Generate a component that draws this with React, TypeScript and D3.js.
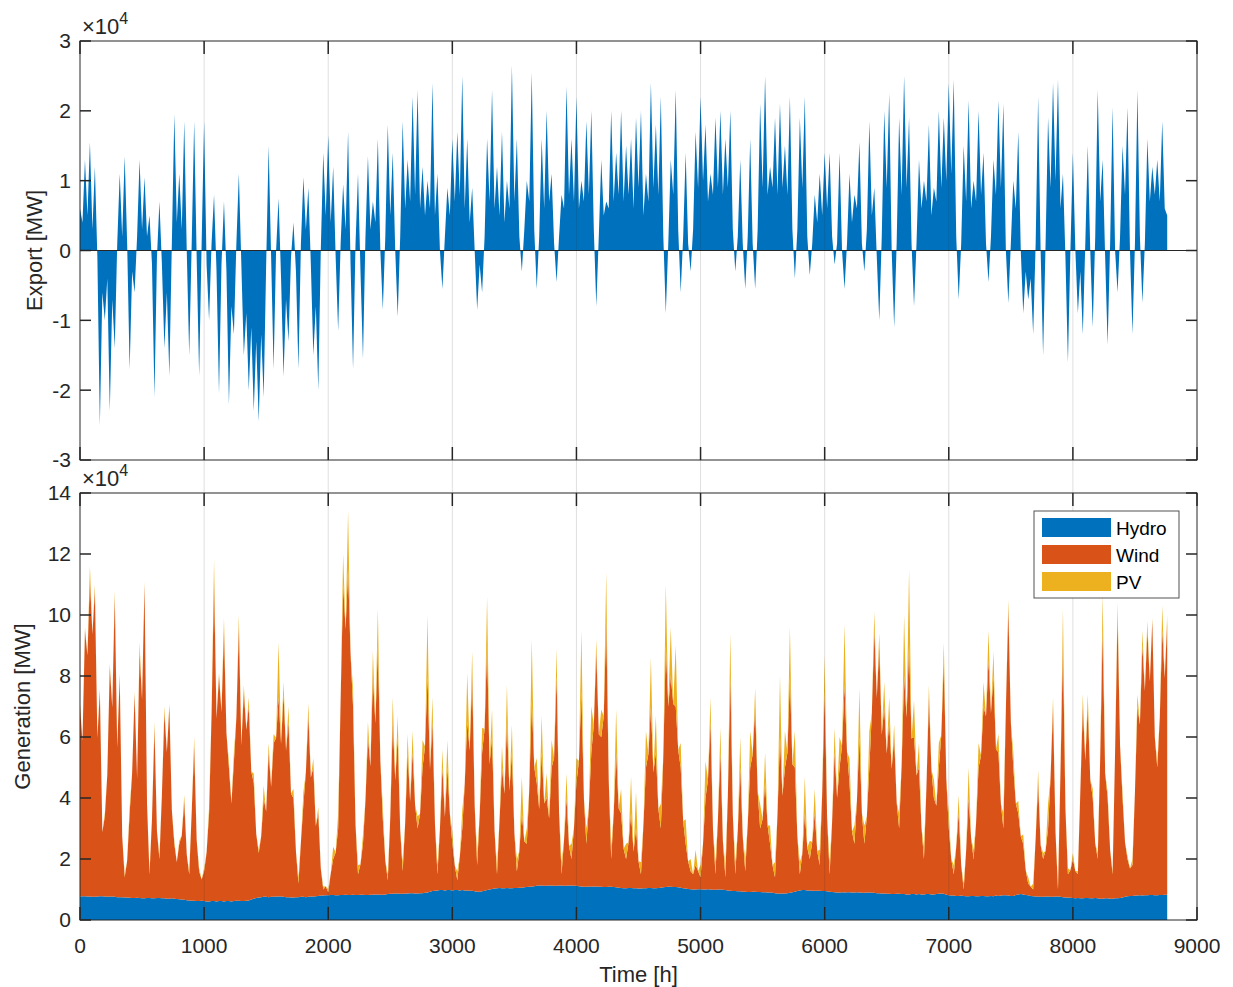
import React from 'react';
import * as d3 from 'd3';

// hourly series sampled every 20 h, values in units of 10^4 MW
const hours = d3.range(0, 8761, 20);

const exportE4 = [
  0.6, 0.4, 1.3, 0.5, 1.55, 0.3, 1.2, -0.1, -2.5, -0.6, -1.0, -0.4, -2.3, -0.7, -1.4, 0.1, 1.1, 0.2, 1.35, 0.1,
  -1.7, -0.3, -0.6, 0.2, 1.3, 0.3, 1.05, 0.2, 0.5, -0.2, -2.1, -0.1, 0.7, -0.2, -1.4, -0.6, -1.8, 0.1, 1.95, 0.4,
  1.1, 0.3, 1.85, 0.0, -1.5, 0.1, 1.85, -0.1, -1.8, 0.1, 1.85, -0.2, -1.0, 0.1, 0.8, -0.3, -2.05, -0.2, 0.7, -0.3,
  -2.2, -0.8, -1.2, 0.1, 1.1, -0.2, -1.5, -0.9, -2.0, -1.1, -2.3, -1.3, -2.45, -1.2, -2.1, -0.2, 1.5, -0.1, -1.7, 0.0,
  0.75, -0.4, -1.8, -0.7, -1.3, -0.1, 0.4, -0.3, -1.7, 0.1, 1.05, 0.3, 0.9, -0.2, -1.5, -0.8, -2.0, 0.0, 1.4, 0.5,
  1.65, 0.4, 1.2, -0.1, -1.15, 0.1, 0.95, 0.3, 1.7, -0.2, -1.7, 0.1, 1.1, -0.3, -1.55, 0.2, 1.35, 0.3, 0.7, 0.4,
  1.6, 0.0, -0.85, 0.2, 1.8, 0.5, 1.4, 0.0, -0.95, 0.2, 1.85, 0.6, 1.3, 0.7, 2.2, 0.8, 2.3, 0.6, 1.2, 0.5,
  1.0, 0.6, 2.4, 0.5, 1.1, 0.0, -0.55, 0.2, 0.9, 0.5, 1.6, 0.7, 1.7, 0.8, 2.5, 0.6, 1.6, 0.4, 0.9, 0.0,
  -0.85, -0.2, -0.6, 0.2, 1.6, 0.7, 2.3, 0.6, 1.2, 0.5, 1.7, 0.4, 1.0, 0.6, 2.65, 0.7, 1.6, 0.2, -0.3, 0.3,
  1.0, 0.7, 2.55, 0.3, -0.55, 0.2, 1.6, 0.6, 2.0, 0.7, 1.1, 0.1, -0.45, 0.2, 0.8, 0.6, 2.35, 0.8, 1.6, 0.7,
  2.2, 0.6, 1.0, 0.7, 1.85, 0.8, 2.0, 0.3, -0.8, 0.2, 1.3, 0.5, 0.7, 0.6, 2.0, 0.7, 1.4, 0.8, 2.0, 0.7,
  1.5, 0.8, 1.6, 0.6, 1.9, 0.9, 2.0, 0.5, 1.1, 0.7, 2.4, 0.9, 1.8, 0.8, 2.2, 0.2, -0.9, 0.1, 1.3, 0.8,
  2.3, 0.3, -0.6, 0.2, 1.4, 0.1, -0.3, 0.3, 1.7, 0.9, 2.2, 1.0, 1.8, 0.7, 1.1, 0.8, 1.9, 0.9, 2.0, 0.8,
  1.6, 0.9, 2.0, 0.3, -0.3, 0.2, 1.3, 0.1, -0.55, 0.2, 1.6, 0.1, -0.55, 0.3, 2.1, 0.9, 2.5, 0.8, 1.2, 0.9,
  1.9, 0.8, 2.1, 0.9, 1.5, 0.8, 2.2, 0.3, -0.4, 0.3, 1.9, 0.9, 2.2, 0.2, -0.35, 0.1, 0.8, 0.4, 1.1, 0.5,
  1.4, 0.6, 1.4, 0.2, -0.2, 0.1, 1.4, 0.0, -0.55, 0.1, 1.1, 0.4, 0.8, 0.6, 1.55, 0.1, -0.3, 0.3, 1.85, 0.5,
  0.9, -0.1, -1.0, 0.2, 2.0, 0.9, 2.25, 0.0, -1.1, 0.1, 1.9, 0.8, 2.5, 0.9, 1.9, 0.1, -0.8, 0.1, 1.3, 0.6,
  1.0, 0.7, 1.8, 0.5, 0.9, 0.7, 2.0, 0.9, 1.9, 1.0, 2.4, 1.1, 2.45, 0.2, -0.7, 0.1, 1.5, 0.7, 2.15, 0.6,
  1.0, 0.7, 2.0, 0.8, 1.4, 0.1, -0.45, 0.2, 1.3, 0.8, 2.15, 0.9, 2.1, 0.0, -0.75, 0.1, 1.0, 0.6, 1.7, 0.0,
  -0.9, -0.3, -0.7, -0.4, -1.2, 0.1, 2.2, 0.0, -1.5, 0.1, 1.9, 0.9, 2.4, 1.0, 2.45, 0.6, 1.1, -0.1, -1.6, 0.0,
  1.4, 0.0, -0.9, -0.3, -1.2, 0.1, 1.5, 0.0, -1.1, 0.2, 2.3, 0.7, 1.3, -0.1, -1.35, 0.1, 2.05, 0.0, -0.6, 0.2,
  1.5, 0.8, 2.05, 0.0, -1.2, 0.1, 2.3, 0.2, -0.75, 0.1, 1.6, 0.7, 1.2, 0.8, 1.3, 0.7, 1.85, 0.6, 0.5,
];

const hydroE4 = [
  0.77, 0.78, 0.78, 0.77, 0.77, 0.76, 0.76, 0.77, 0.78, 0.78, 0.77, 0.76, 0.77, 0.77, 0.76, 0.75, 0.75, 0.75, 0.74, 0.74,
  0.73, 0.72, 0.72, 0.73, 0.72, 0.71, 0.71, 0.72, 0.72, 0.71, 0.71, 0.72, 0.72, 0.71, 0.71, 0.70, 0.70, 0.71, 0.70, 0.69,
  0.68, 0.67, 0.66, 0.65, 0.64, 0.63, 0.63, 0.62, 0.62, 0.63, 0.62, 0.61, 0.61, 0.62, 0.62, 0.61, 0.62, 0.62, 0.61, 0.62,
  0.62, 0.61, 0.62, 0.63, 0.63, 0.62, 0.62, 0.63, 0.64, 0.67, 0.70, 0.72, 0.74, 0.75, 0.76, 0.76, 0.75, 0.76, 0.76, 0.77,
  0.77, 0.77, 0.76, 0.75, 0.75, 0.74, 0.74, 0.75, 0.75, 0.76, 0.76, 0.75, 0.76, 0.77, 0.77, 0.78, 0.79, 0.80, 0.80, 0.81,
  0.81, 0.82, 0.82, 0.81, 0.81, 0.82, 0.82, 0.83, 0.82, 0.82, 0.83, 0.82, 0.82, 0.83, 0.83, 0.82, 0.82, 0.83, 0.83, 0.84,
  0.84, 0.83, 0.83, 0.84, 0.85, 0.86, 0.86, 0.87, 0.87, 0.86, 0.86, 0.87, 0.87, 0.88, 0.88, 0.87, 0.87, 0.88, 0.88, 0.89,
  0.90, 0.93, 0.95, 0.96, 0.97, 0.98, 0.98, 0.97, 0.98, 0.98, 0.97, 0.98, 0.98, 0.97, 0.98, 0.97, 0.97, 0.96, 0.96, 0.94,
  0.93, 0.93, 0.94, 0.96, 0.98, 1.00, 1.02, 1.03, 1.04, 1.05, 1.04, 1.04, 1.05, 1.04, 1.04, 1.05, 1.05, 1.06, 1.06, 1.07,
  1.08, 1.09, 1.10, 1.11, 1.12, 1.13, 1.13, 1.12, 1.12, 1.13, 1.13, 1.12, 1.12, 1.13, 1.13, 1.12, 1.12, 1.13, 1.13, 1.12,
  1.12, 1.11, 1.10, 1.09, 1.09, 1.10, 1.09, 1.10, 1.10, 1.09, 1.09, 1.08, 1.08, 1.09, 1.09, 1.08, 1.07, 1.06, 1.05, 1.04,
  1.04, 1.05, 1.05, 1.04, 1.04, 1.03, 1.03, 1.04, 1.04, 1.05, 1.05, 1.04, 1.04, 1.05, 1.06, 1.07, 1.08, 1.09, 1.09, 1.08,
  1.08, 1.07, 1.06, 1.04, 1.03, 1.02, 1.01, 1.00, 1.00, 1.01, 1.01, 1.00, 1.00, 1.01, 1.00, 0.99, 0.99, 1.00, 1.00, 0.99,
  0.98, 0.97, 0.96, 0.95, 0.95, 0.94, 0.94, 0.93, 0.93, 0.92, 0.92, 0.93, 0.93, 0.92, 0.92, 0.91, 0.91, 0.90, 0.90, 0.89,
  0.88, 0.87, 0.87, 0.87, 0.87, 0.88, 0.89, 0.91, 0.93, 0.95, 0.97, 0.98, 0.98, 0.97, 0.97, 0.96, 0.96, 0.96, 0.96, 0.95,
  0.95, 0.94, 0.93, 0.92, 0.91, 0.90, 0.90, 0.91, 0.90, 0.91, 0.91, 0.90, 0.90, 0.91, 0.90, 0.89, 0.89, 0.90, 0.90, 0.89,
  0.89, 0.88, 0.88, 0.87, 0.87, 0.86, 0.86, 0.85, 0.85, 0.86, 0.86, 0.85, 0.85, 0.84, 0.84, 0.85, 0.85, 0.84, 0.85, 0.84,
  0.84, 0.85, 0.85, 0.84, 0.84, 0.85, 0.86, 0.87, 0.86, 0.83, 0.81, 0.80, 0.80, 0.79, 0.79, 0.80, 0.79, 0.78, 0.78, 0.79,
  0.79, 0.78, 0.78, 0.79, 0.79, 0.78, 0.78, 0.79, 0.78, 0.80, 0.79, 0.80, 0.81, 0.81, 0.80, 0.79, 0.79, 0.82, 0.84, 0.85,
  0.84, 0.82, 0.81, 0.79, 0.78, 0.77, 0.77, 0.76, 0.76, 0.77, 0.77, 0.76, 0.76, 0.77, 0.77, 0.76, 0.75, 0.74, 0.74, 0.73,
  0.72, 0.71, 0.72, 0.71, 0.71, 0.72, 0.72, 0.71, 0.71, 0.72, 0.71, 0.70, 0.70, 0.71, 0.71, 0.70, 0.70, 0.71, 0.71, 0.72,
  0.74, 0.76, 0.78, 0.79, 0.79, 0.80, 0.80, 0.81, 0.80, 0.81, 0.81, 0.82, 0.82, 0.81, 0.81, 0.82, 0.82, 0.83, 0.83,
];

const windE4 = [
  6.23, 5.1, 8.72, 7.9, 10.43, 8.6, 10.04, 5.2, 6.72, 2.1, 2.63, 4.0, 7.53, 6.2, 9.84, 4.9, 7.25, 2.0, 0.66, 1.2,
  2.77, 4.1, 6.68, 3.9, 8.08, 6.5, 10.29, 3.1, 0.78, 2.6, 5.59, 2.2, 1.28, 3.4, 6.09, 4.8, 6.30, 2.9, 1.80, 1.2,
  1.82, 2.1, 3.24, 1.5, 0.86, 2.9, 5.07, 2.0, 0.98, 0.7, 0.98, 1.6, 2.89, 6.1, 10.48, 6.0, 7.38, 6.2, 8.89, 5.5,
  4.38, 3.2, 4.58, 6.0, 8.97, 5.1, 6.88, 5.6, 6.36, 4.2, 3.80, 2.1, 1.46, 2.0, 3.24, 2.8, 4.75, 3.6, 5.04, 5.2,
  6.53, 5.0, 6.64, 4.8, 5.75, 3.4, 3.26, 1.5, 0.45, 1.8, 3.04, 4.1, 5.94, 3.9, 4.23, 2.3, 2.71, 0.9, 0.20, 0.3,
  0.10, 0.7, 1.18, 1.4, 2.19, 6.4, 10.18, 8.7, 10.68, 7.9, 6.17, 2.3, 0.68, 1.0, 1.67, 3.1, 5.18, 4.2, 7.17, 5.6,
  8.16, 4.4, 2.47, 1.1, 0.45, 2.5, 5.64, 3.7, 5.13, 2.1, 0.74, 2.3, 4.63, 3.0, 4.62, 2.9, 2.13, 2.6, 4.12, 4.8,
  7.10, 4.0, 5.55, 2.2, 0.53, 2.0, 4.02, 2.4, 4.02, 2.5, 1.53, 0.8, 0.32, 1.1, 2.02, 3.5, 5.53, 4.6, 7.04, 2.8,
  0.87, 2.5, 4.56, 5.3, 8.02, 4.1, 4.98, 1.9, 0.46, 2.2, 3.96, 3.1, 5.45, 3.2, 4.46, 1.8, 0.55, 1.2, 2.44, 1.5,
  1.42, 3.2, 6.10, 3.9, 3.38, 2.5, 4.37, 2.7, 2.88, 2.2, 3.87, 4.2, 6.88, 2.4, 0.37, 1.5, 2.88, 1.3, 0.87, 1.9,
  3.38, 4.1, 6.40, 2.9, 1.41, 2.6, 4.41, 5.3, 7.70, 5.0, 4.91, 5.6, 8.72, 3.5, 0.91, 2.4, 4.43, 2.6, 2.45, 1.3,
  0.96, 1.5, 2.45, 1.2, 1.96, 0.9, 0.47, 2.1, 3.96, 4.4, 5.95, 3.8, 4.46, 2.6, 1.94, 4.3, 7.92, 5.9, 6.91, 6.0,
  5.92, 4.5, 3.94, 2.2, 1.47, 0.9, 0.59, 0.5, 0.80, 0.6, 0.39, 1.5, 3.00, 3.6, 5.50, 2.0, 0.51, 2.3, 4.50, 1.6,
  0.42, 3.1, 7.04, 2.5, 0.55, 2.0, 4.06, 1.8, 0.67, 2.2, 4.08, 4.5, 6.07, 3.3, 2.08, 2.4, 3.59, 2.2, 1.60, 0.9,
  0.52, 2.6, 5.13, 3.2, 4.13, 4.6, 7.11, 4.2, 4.07, 1.8, 0.53, 1.2, 2.52, 1.4, 1.03, 1.6, 2.54, 1.3, 0.84, 3.2,
  6.55, 2.4, 0.57, 2.3, 4.59, 3.1, 4.10, 4.8, 6.80, 4.6, 3.59, 2.0, 1.60, 3.0, 5.10, 2.6, 1.61, 2.5, 4.10, 5.9,
  8.61, 6.4, 8.12, 5.2, 6.13, 4.6, 5.64, 4.1, 5.15, 3.0, 2.14, 4.2, 7.15, 5.8, 8.16, 5.1, 5.15, 3.9, 4.15, 2.2,
  1.16, 3.5, 6.45, 4.1, 3.16, 2.9, 4.14, 5.2, 7.64, 3.8, 2.19, 1.2, 0.70, 1.6, 2.71, 1.0, 0.21, 1.5, 3.22, 1.9,
  1.21, 2.4, 4.22, 4.6, 6.21, 5.9, 7.72, 6.0, 7.22, 4.8, 4.71, 3.0, 2.19, 6.1, 9.40, 5.7, 4.21, 3.0, 2.66, 1.9,
  1.66, 0.8, 0.39, 0.3, 0.22, 1.9, 3.73, 1.7, 1.24, 1.5, 2.23, 3.9, 6.24, 2.1, 0.23, 4.1, 8.25, 2.9, 0.76, 0.9,
  1.28, 0.9, 0.78, 3.5, 6.29, 4.5, 6.28, 3.9, 3.29, 1.8, 1.29, 4.6, 8.80, 4.1, 3.29, 1.6, 0.80, 4.8, 9.29, 5.0,
  3.26, 1.8, 1.22, 0.9, 1.01, 3.4, 6.20, 5.6, 8.20, 6.7, 8.69, 7.0, 8.98, 5.2, 4.19, 5.8, 8.68, 7.1, 8.97,
];

const pvE4 = [
  0.1, 0, 0.1, 0, 0.4, 0, 0.2, 0, 0.1, 0, 0.1, 0, 0.1, 0, 0.2, 0, 0.1, 0, 0.1, 0,
  0.2, 0, 0.1, 0, 0.3, 0, 0.1, 0, 0.1, 0, 0.2, 0, 0.1, 0, 0.2, 0, 0.1, 0, 0.1, 0,
  0.1, 0, 0.2, 0, 0.1, 0, 0.3, 0, 0.1, 0, 0.1, 0, 0.2, 0, 0.7, 0, 0.1, 0, 0.4, 0,
  0.2, 0, 0.3, 0, 0.4, 0, 0.2, 0, 0.3, 0, 0.3, 0, 0.1, 0, 0.4, 0, 0.3, 0, 0.3, 0,
  1.8, 0, 0.4, 0, 0.5, 0, 0.3, 0, 0.2, 0, 0.4, 0, 0.4, 0, 0.3, 0, 0.2, 0, 0.1, 0,
  0.1, 0, 0.4, 0, 0.5, 0, 1.0, 0, 1.9, 0, 0.6, 0, 0.3, 0, 0.3, 0, 0.5, 0, 0.8, 0,
  1.2, 0, 0.4, 0, 0.2, 0, 0.8, 0, 0.7, 0, 0.3, 0, 0.6, 0, 0.7, 0, 0.4, 0, 0.9, 0,
  2.0, 0, 0.8, 0, 0.3, 0, 0.6, 0, 0.9, 0, 0.4, 0, 0.3, 0, 0.6, 0, 1.6, 0, 0.8, 0,
  0.4, 0, 0.8, 0, 1.6, 0, 0.9, 0, 0.3, 0, 0.7, 0, 1.2, 0, 0.9, 0, 0.4, 0, 1.2, 0,
  0.5, 0, 2.0, 0, 0.8, 0, 1.2, 0, 0.8, 0, 0.9, 0, 0.9, 0, 0.4, 0, 0.8, 0, 0.5, 0,
  0.8, 0, 2.0, 0, 0.5, 0, 1.5, 0, 0.4, 0, 0.9, 0, 1.6, 0, 0.4, 0, 1.4, 0, 0.8, 0,
  0.5, 0, 1.2, 0, 1.2, 0, 0.4, 0, 1.2, 0, 1.6, 0, 1.2, 0, 0.8, 0, 2.0, 0, 1.6, 0,
  2.0, 0, 0.8, 0, 0.8, 0, 0.4, 0, 0.5, 0, 0.4, 0, 1.2, 0, 0.8, 0, 0.4, 0, 0.8, 0,
  0.4, 0, 1.4, 0, 0.4, 0, 1.0, 0, 0.4, 0, 1.2, 0, 0.6, 0, 0.8, 0, 1.0, 0, 0.6, 0,
  0.5, 0, 2.0, 0, 1.2, 0, 1.6, 0, 1.2, 0, 0.4, 0, 1.2, 0, 0.6, 0, 0.8, 0, 0.5, 0,
  1.2, 0, 0.4, 0, 0.8, 0, 1.0, 0, 2.0, 0, 0.8, 0, 0.6, 0, 1.6, 0, 0.6, 0, 1.2, 0,
  0.6, 0, 0.4, 0, 0.8, 0, 0.8, 0, 0.4, 0, 0.5, 0, 2.0, 0, 2.5, 0, 1.2, 0, 0.8, 0,
  0.4, 0, 0.4, 0, 0.6, 0, 0.8, 0, 0.6, 0, 0.5, 0, 0.3, 0, 0.6, 0, 0.2, 0, 1.0, 0,
  0.3, 0, 0.8, 0, 0.8, 0, 1.0, 0, 0.8, 0, 0.6, 0, 0.5, 0, 0.3, 0, 0.5, 0, 0.4, 0,
  0.3, 0, 0.2, 0, 0.2, 0, 0.4, 0, 0.2, 0, 0.8, 0, 0.3, 0, 0.2, 0, 1.2, 0, 0.2, 0,
  0.2, 0, 0.1, 0, 0.4, 0, 0.4, 0, 0.3, 0, 0.2, 0, 1.2, 0, 0.2, 0, 0.1, 0, 0.4, 0,
  0.2, 0, 0.1, 0, 0.2, 0, 0.4, 0, 0.5, 0, 0.3, 0, 0.1, 0, 0.2, 0, 0.8, 0, 0.2,
];

const xTicks = [0, 1000, 2000, 3000, 4000, 5000, 6000, 7000, 8000, 9000];
const exportTicks = [-3, -2, -1, 0, 1, 2, 3];
const genTicks = [0, 2, 4, 6, 8, 10, 12, 14];
const seriesNames = ['Hydro', 'Wind', 'PV'];
const seriesColors = ['#0072BD', '#D95319', '#EDB120'];

const INK = '#262626';
const FONT = '"Liberation Sans", Arial, Helvetica, sans-serif';

const left = 80, right = 1197;
const top1 = 41, bot1 = 460;
const top2 = 493, bot2 = 920;

function YAxis({ y, ticks }) {
  return (
    <g>
      {ticks.map(t => (
        <g key={t}>
          <line x1={left} x2={left + 11} y1={y(t)} y2={y(t)} stroke={INK} strokeWidth={1.5} />
          <line x1={right - 11} x2={right} y1={y(t)} y2={y(t)} stroke={INK} strokeWidth={1.5} />
          <text x={71} y={y(t)} dy="0.35em" textAnchor="end" fontSize={21} fill={INK}>{t}</text>
        </g>
      ))}
    </g>
  );
}

function XTickMarks({ x, y0, y1 }) {
  return (
    <g>
      {xTicks.map(t => (
        <g key={t}>
          <line x1={x(t)} x2={x(t)} y1={y0} y2={y0 + 13} stroke={INK} strokeWidth={1.5} />
          <line x1={x(t)} x2={x(t)} y1={y1} y2={y1 - 13} stroke={INK} strokeWidth={1.5} />
        </g>
      ))}
    </g>
  );
}

function Exponent({ yBase }) {
  return (
    <text x={82} y={yBase} fontSize={22} fill={INK}>
      <tspan>×10</tspan>
      <tspan dy={-10} fontSize={16}>4</tspan>
    </text>
  );
}

export default function App() {
  const x = d3.scaleLinear().domain([0, 9000]).range([left, right]);
  const yTop = d3.scaleLinear().domain([-3, 3]).range([bot1, top1]);
  const yBot = d3.scaleLinear().domain([0, 14]).range([bot2, top2]);

  const exportArea = d3.area<number>()
    .x((d, i) => x(hours[i]))
    .y0(yTop(0))
    .y1(d => yTop(d));

  const rows = hours.map((h, i) => ({ hour: h, Hydro: hydroE4[i], Wind: windE4[i], PV: pvE4[i] }));
  const stacked = d3.stack<any>().keys(seriesNames)(rows);
  const genArea = d3.area<any>()
    .x(d => x(d.data.hour))
    .y0(d => yBot(d[0]))
    .y1(d => yBot(d[1]));

  const gridX = xTicks.slice(1, -1);

  return (
    <div style={{ position: 'absolute', left: 0, top: 0 }}>
      <svg width={1233} height={987} style={{ display: 'block', background: '#fff' }} fontFamily={FONT}>
        {/* top panel: export */}
        <path d={exportArea(exportE4) || ''} fill="#0072BD" />
        <line x1={left} x2={right} y1={yTop(0)} y2={yTop(0)} stroke={INK} strokeWidth={1} />

        {/* bottom panel: generation stack */}
        {stacked.map((s, i) => (
          <path key={s.key} d={genArea(s) || ''} fill={seriesColors[i]} />
        ))}

        {/* grid */}
        {gridX.map(t => (
          <line key={t} x1={x(t)} x2={x(t)} y1={top1} y2={bot2} stroke={INK} strokeOpacity={0.15} strokeWidth={1} />
        ))}

        {/* boxes */}
        <rect x={left} y={top1} width={right - left} height={bot1 - top1} fill="none" stroke={INK} strokeWidth={1} />
        <rect x={left} y={top2} width={right - left} height={bot2 - top2} fill="none" stroke={INK} strokeWidth={1} />

        <YAxis y={yTop} ticks={exportTicks} />
        <YAxis y={yBot} ticks={genTicks} />
        <XTickMarks x={x} y0={top1} y1={bot1} />
        <XTickMarks x={x} y0={top2} y1={bot2} />

        {xTicks.map(t => (
          <text key={t} x={x(t)} y={953} textAnchor="middle" fontSize={21} fill={INK}>{t}</text>
        ))}

        <Exponent yBase={34} />
        <Exponent yBase={486} />

        <text transform={`translate(42,${(top1 + bot1) / 2}) rotate(-90)`} textAnchor="middle" fontSize={22} fill={INK}>Export [MW]</text>
        <text transform={`translate(30,${(top2 + bot2) / 2}) rotate(-90)`} textAnchor="middle" fontSize={22} fill={INK}>Generation [MW]</text>
        <text x={(left + right) / 2} y={982} textAnchor="middle" fontSize={22} fill={INK}>Time [h]</text>

        {/* legend */}
        <g>
          <rect x={1034} y={511} width={145} height={87} fill="#fff" stroke={INK} strokeOpacity={0.8} strokeWidth={1} />
          {seriesNames.map((name, i) => (
            <g key={name}>
              <rect x={1042} y={518 + i * 27} width={69} height={19} fill={seriesColors[i]} />
              <text x={1116} y={528 + i * 27} dy="0.35em" fontSize={19} fill="#000">{name}</text>
            </g>
          ))}
        </g>
      </svg>
    </div>
  );
}
